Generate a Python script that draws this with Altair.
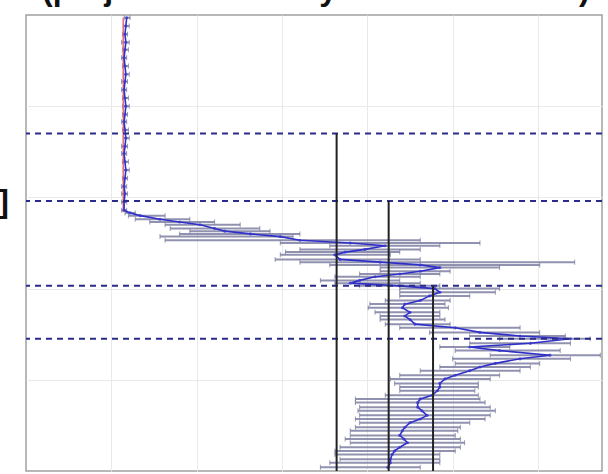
import altair as alt
import pandas as pd

# Profile: depth (top = 0) with mean value and the spread of each level
depth = [0.03, 0.12, 0.21, 0.30, 0.38, 0.47, 0.56, 0.65, 0.73, 0.82, 0.91, 1.00,
         1.09, 1.17, 1.26, 1.35, 1.44, 1.52, 1.61, 1.70, 1.79, 1.88, 1.96, 2.05, 2.14,
         2.17, 2.20, 2.24, 2.27, 2.30, 2.34, 2.37, 2.40, 2.43, 2.47, 2.50, 2.53, 2.57,
         2.60, 2.63, 2.68, 2.71, 2.74, 2.77, 2.81, 2.84, 2.87, 2.91, 2.94, 2.97, 3.00,
         3.04, 3.08, 3.13, 3.17, 3.21, 3.26, 3.30, 3.34, 3.39, 3.43, 3.48, 3.52, 3.55,
         3.60, 3.64, 3.68, 3.73, 3.77, 3.82, 3.86, 3.90, 3.95, 3.99, 4.04, 4.08, 4.12,
         4.17, 4.21, 4.25, 4.30, 4.34, 4.39, 4.43, 4.47, 4.52, 4.56, 4.61, 4.65, 4.69,
         4.74, 4.78, 4.82, 4.87, 4.91, 4.96]
mean = [1.18, 1.17, 1.16, 1.17, 1.16, 1.15, 1.16, 1.17, 1.16, 1.15, 1.16, 1.17,
        1.16, 1.15, 1.16, 1.17, 1.16, 1.15, 1.16, 1.17, 1.16, 1.15, 1.16, 1.15, 1.15,
        1.22, 1.34, 1.57, 1.80, 2.04, 2.21, 2.33, 2.63, 2.98, 3.21, 3.80, 4.21, 3.97,
        3.74, 3.62, 3.68, 4.15, 4.62, 4.85, 4.62, 4.38, 4.09, 3.91, 3.80, 4.38, 4.79,
        4.85, 4.73, 4.62, 4.44, 4.41, 4.50, 4.44, 4.50, 4.56, 5.03, 5.32, 5.79, 6.38,
        5.91, 5.20, 5.55, 6.14, 5.79, 5.50, 5.32, 5.20, 5.03, 4.91, 4.85, 4.85, 4.82,
        4.76, 4.62, 4.59, 4.59, 4.64, 4.70, 4.62, 4.50, 4.44, 4.41, 4.38, 4.43, 4.47,
        4.38, 4.32, 4.29, 4.27, 4.27, 4.24]
low = [1.15, 1.14, 1.13, 1.12, 1.13, 1.12, 1.13, 1.14, 1.12, 1.12, 1.13, 1.13,
       1.13, 1.12, 1.13, 1.14, 1.12, 1.12, 1.13, 1.14, 1.13, 1.12, 1.12, 1.12, 1.12,
       1.16, 1.20, 1.28, 1.45, 1.63, 1.69, 1.92, 1.80, 1.57, 1.63, 2.98, 3.56, 3.21,
       3.04, 2.98, 2.92, 3.21, 3.56, 4.15, 4.15, 3.91, 3.62, 3.45, 3.62, 3.91, 4.38,
       4.38, 4.38, 4.21, 4.03, 4.01, 4.09, 4.15, 4.15, 4.21, 4.38, 4.73, 5.20, 5.55,
       5.20, 4.85, 5.03, 5.44, 5.00, 5.03, 4.85, 4.62, 4.38, 4.27, 4.32, 4.38, 4.38,
       4.21, 3.86, 3.86, 3.91, 3.89, 3.91, 3.86, 3.91, 3.86, 3.80, 3.80, 3.74, 3.80,
       3.68, 3.62, 3.62, 3.68, 3.56, 3.45]
high = [1.22, 1.21, 1.19, 1.21, 1.20, 1.18, 1.20, 1.21, 1.19, 1.18, 1.20, 1.21,
        1.19, 1.18, 1.20, 1.21, 1.19, 1.18, 1.20, 1.21, 1.19, 1.18, 1.19, 1.18, 1.18,
        1.28, 1.63, 1.92, 2.21, 2.51, 2.74, 2.86, 3.21, 3.13, 4.62, 5.32, 4.85, 4.62,
        4.38, 4.27, 4.62, 6.43, 6.02, 5.55, 4.97, 4.85, 4.62, 4.38, 4.62, 4.85, 5.55,
        5.50, 5.20, 4.97, 4.91, 4.95, 4.85, 4.85, 4.91, 4.97, 5.79, 6.02, 6.32, 6.61,
        6.38, 5.67, 6.26, 6.73, 6.38, 6.02, 5.91, 5.79, 5.55, 5.44, 5.30, 5.30, 5.26,
        5.30, 5.32, 5.38, 5.44, 5.50, 5.44, 5.38, 5.20, 5.09, 5.06, 5.03, 5.09, 5.14,
        5.09, 5.03, 4.85, 4.85, 4.85, 4.62]

# Layer boundaries (dashed) and the mean of each lower layer (solid)
boundaries = [1.30, 2.04, 2.97, 3.55]
layer_mean = [3.64, 4.25, 4.77]
layer_top = [1.30, 2.04, 2.97]

# Reference value of the upper part
ref_value = [1.14]
ref_top = [0.03]
ref_bottom = [2.16]

title_text = "(projected intensity vs. their means)"
side_text = "]"

X_MAX = 6.75
Y_MAX = 5.0

prof = pd.DataFrame({"depth": depth, "mean": mean, "low": low, "high": high})
bnd = pd.DataFrame({"depth": boundaries})
lm = pd.DataFrame({"value": layer_mean, "top": layer_top, "bottom": [Y_MAX] * len(layer_mean)})
ref = pd.DataFrame({"value": ref_value, "top": ref_top, "bottom": ref_bottom})

x_axis = alt.Axis(labels=False, ticks=False, domain=False, grid=True,
                  gridColor="#e9e9e9", gridWidth=1, values=[1, 2, 3, 4, 5, 6], title=None)
y_axis = alt.Axis(labels=False, ticks=False, domain=False, grid=True,
                  gridColor="#e9e9e9", gridWidth=1, values=[1, 2, 3, 4], title=None)
x_scale = alt.Scale(domain=[0, X_MAX], nice=False, zero=False)
y_scale = alt.Scale(domain=[0, Y_MAX], nice=False, zero=False, reverse=True)


def X(field):
    return alt.X(f"{field}:Q", scale=x_scale, axis=x_axis)


def Y(field):
    return alt.Y(f"{field}:Q", scale=y_scale, axis=y_axis)


spread = alt.Chart(prof).mark_rule(color="#75779c", strokeWidth=2, opacity=0.8).encode(
    x=X("low"), x2="high", y=Y("depth")
)
cap_lo = alt.Chart(prof).mark_tick(orient="vertical", color="#6f7196", size=5, thickness=1).encode(
    x=X("low"), y=Y("depth")
)
cap_hi = alt.Chart(prof).mark_tick(orient="vertical", color="#6f7196", size=5, thickness=1).encode(
    x=X("high"), y=Y("depth")
)

ref_line = alt.Chart(ref).mark_rule(color="#e0707a", strokeWidth=1.6).encode(
    x=X("value"), y=Y("top"), y2="bottom"
)

profile_line = alt.Chart(prof).mark_line(color="#2f2fc8", strokeWidth=1.6).encode(
    x=X("mean"), y=Y("depth"), order="depth:Q"
)
profile_pts = alt.Chart(prof).mark_point(color="#3a3ad0", filled=True, size=10, opacity=0.8).encode(
    x=X("mean"), y=Y("depth")
)

dashed = alt.Chart(bnd).mark_rule(color="#2b2b8c", strokeWidth=2, strokeDash=[6, 5]).encode(
    y=Y("depth")
)

means = alt.Chart(lm).mark_rule(color="#222222", strokeWidth=2).encode(
    x=X("value"), y=Y("top"), y2="bottom"
)

title = alt.Chart(pd.DataFrame({"t": [title_text]})).mark_text(
    font="Liberation Sans", fontWeight="bold", fontSize=32, align="left",
    baseline="alphabetic", color="#111111"
).encode(text="t:N", x=alt.value(16), y=alt.value(-15))

side = alt.Chart(pd.DataFrame({"t": [side_text]})).mark_text(
    font="Liberation Sans", fontWeight="bold", fontSize=32, align="right",
    baseline="alphabetic", color="#111111"
).encode(text="t:N", x=alt.value(-17), y=alt.value(197))

chart = alt.layer(
    spread, cap_lo, cap_hi, ref_line, profile_line, profile_pts, dashed, means, title, side
).properties(
    width=576, height=456,
    autosize=alt.AutoSizeParams(type="none"),
    padding={"left": 26, "top": 15, "right": 6, "bottom": 3},
    background="white",
).configure_view(stroke="#a0a0a0", strokeWidth=1.5)

chart.save("out.html", embed_options={"renderer": "svg", "actions": False})
